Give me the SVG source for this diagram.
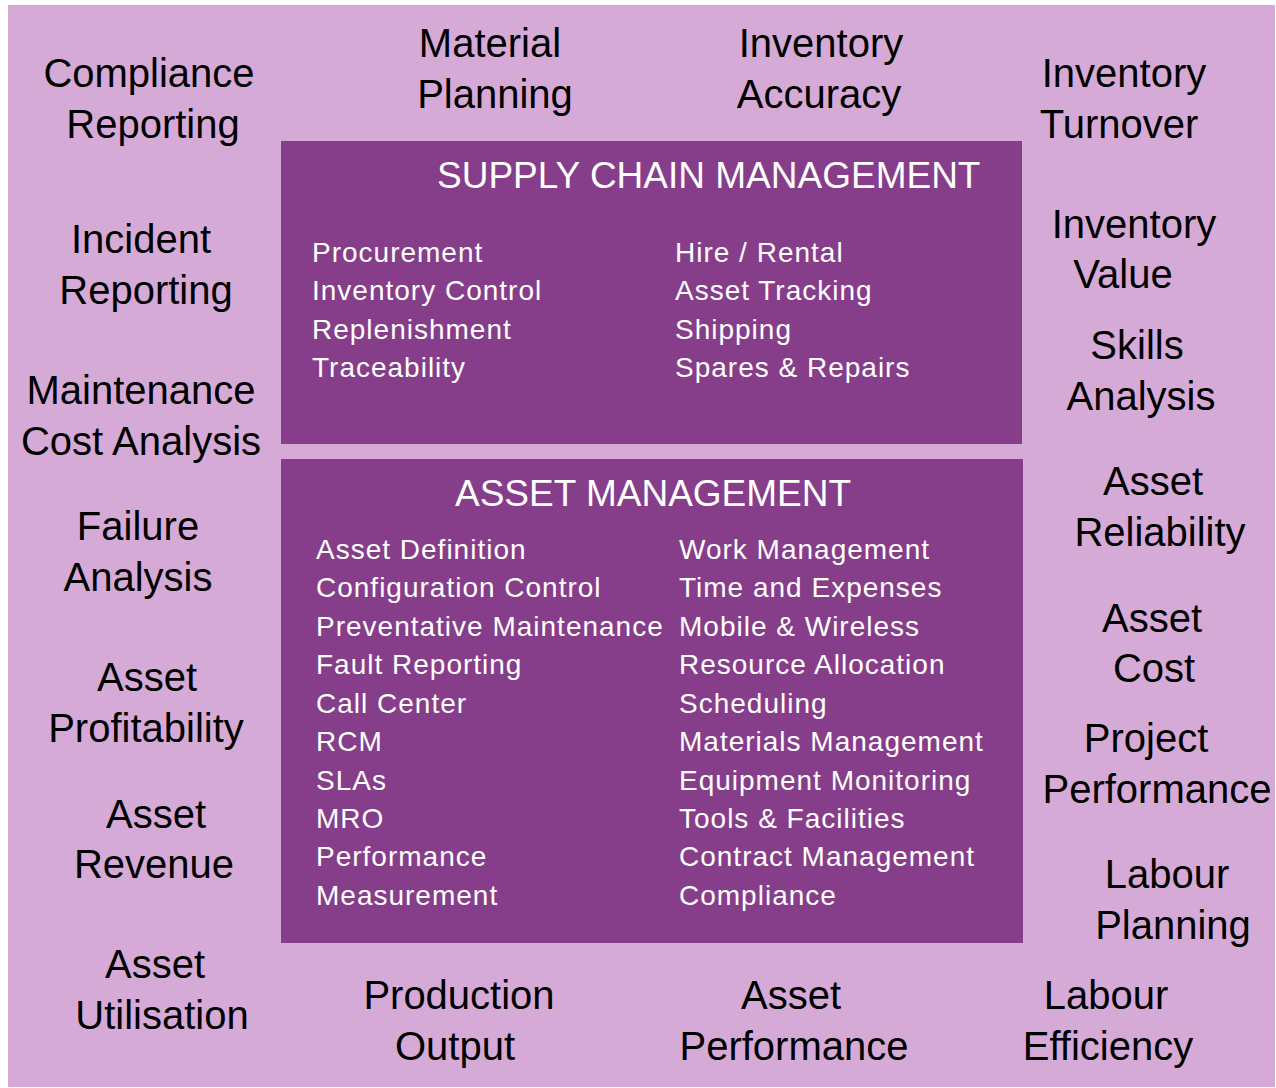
<svg xmlns="http://www.w3.org/2000/svg" width="1276" height="1088" viewBox="0 0 1276 1088">
<style>
.bg{fill:#d6aad7}
.box{fill:#873e8a}
.lbl{font-family:"Liberation Sans",Arial,sans-serif;font-size:40px;fill:#000;text-anchor:middle}
.hdr{font-family:"Liberation Sans",Arial,sans-serif;font-size:37px;fill:#fff}
.item{font-family:"Liberation Sans",Arial,sans-serif;font-size:28px;letter-spacing:1px;fill:#fff}
</style>
<rect x="0" y="0" width="1276" height="1088" fill="#fff"/>
<rect class="bg" x="8" y="5" width="1267" height="1082"/>

<g id="supply-chain-management">
<rect class="box" x="281" y="141" width="741" height="303"/>
<text class="hdr" x="437" y="188">SUPPLY CHAIN MANAGEMENT</text>
<text class="item" x="312" y="262">Procurement</text>
<text class="item" x="312" y="300">Inventory Control</text>
<text class="item" x="312" y="339">Replenishment</text>
<text class="item" x="312" y="377">Traceability</text>
<text class="item" x="675" y="262">Hire / Rental</text>
<text class="item" x="675" y="300">Asset Tracking</text>
<text class="item" x="675" y="339">Shipping</text>
<text class="item" x="675" y="377">Spares &amp; Repairs</text>
</g>

<g id="asset-management">
<rect class="box" x="281" y="459" width="742" height="484"/>
<text class="hdr" x="455" y="506">ASSET MANAGEMENT</text>
<text class="item" x="316" y="559">Asset Definition</text>
<text class="item" x="316" y="597">Configuration Control</text>
<text class="item" x="316" y="636">Preventative Maintenance</text>
<text class="item" x="316" y="674">Fault Reporting</text>
<text class="item" x="316" y="713">Call Center</text>
<text class="item" x="316" y="751">RCM</text>
<text class="item" x="316" y="790">SLAs</text>
<text class="item" x="316" y="828">MRO</text>
<text class="item" x="316" y="866">Performance</text>
<text class="item" x="316" y="905">Measurement</text>
<text class="item" x="679" y="559">Work Management</text>
<text class="item" x="679" y="597">Time and Expenses</text>
<text class="item" x="679" y="636">Mobile &amp; Wireless</text>
<text class="item" x="679" y="674">Resource Allocation</text>
<text class="item" x="679" y="713">Scheduling</text>
<text class="item" x="679" y="751">Materials Management</text>
<text class="item" x="679" y="790">Equipment Monitoring</text>
<text class="item" x="679" y="828">Tools &amp; Facilities</text>
<text class="item" x="679" y="866">Contract Management</text>
<text class="item" x="679" y="905">Compliance</text>
</g>

<g id="compliance-reporting"><text class="lbl" x="149" y="87">Compliance</text><text class="lbl" x="153" y="138">Reporting</text></g>
<g id="material-planning"><text class="lbl" x="490" y="57">Material</text><text class="lbl" x="495" y="108">Planning</text></g>
<g id="inventory-accuracy"><text class="lbl" x="821" y="57">Inventory</text><text class="lbl" x="819" y="108">Accuracy</text></g>
<g id="inventory-turnover"><text class="lbl" x="1124" y="87">Inventory</text><text class="lbl" x="1119" y="138">Turnover</text></g>
<g id="incident-reporting"><text class="lbl" x="141" y="253">Incident</text><text class="lbl" x="146" y="304">Reporting</text></g>
<g id="maintenance-cost-analysis"><text class="lbl" x="141" y="404">Maintenance</text><text class="lbl" x="141" y="455">Cost Analysis</text></g>
<g id="failure-analysis"><text class="lbl" x="138" y="540">Failure</text><text class="lbl" x="138" y="591">Analysis</text></g>
<g id="asset-profitability"><text class="lbl" x="147" y="691">Asset</text><text class="lbl" x="146" y="742">Profitability</text></g>
<g id="asset-revenue"><text class="lbl" x="156" y="828">Asset</text><text class="lbl" x="154" y="878">Revenue</text></g>
<g id="asset-utilisation"><text class="lbl" x="155" y="978">Asset</text><text class="lbl" x="162" y="1029">Utilisation</text></g>
<g id="production-output"><text class="lbl" x="459" y="1009">Production</text><text class="lbl" x="455" y="1060">Output</text></g>
<g id="asset-performance"><text class="lbl" x="791" y="1009">Asset</text><text class="lbl" x="794" y="1060">Performance</text></g>
<g id="labour-efficiency"><text class="lbl" x="1106" y="1009">Labour</text><text class="lbl" x="1108" y="1060">Efficiency</text></g>
<g id="inventory-value"><text class="lbl" x="1134" y="238">Inventory</text><text class="lbl" x="1123" y="288">Value</text></g>
<g id="skills-analysis"><text class="lbl" x="1137" y="359">Skills</text><text class="lbl" x="1141" y="410">Analysis</text></g>
<g id="asset-reliability"><text class="lbl" x="1153" y="495">Asset</text><text class="lbl" x="1160" y="546">Reliability</text></g>
<g id="asset-cost"><text class="lbl" x="1152" y="632">Asset</text><text class="lbl" x="1154" y="682">Cost</text></g>
<g id="project-performance"><text class="lbl" x="1146" y="752">Project</text><text class="lbl" x="1157" y="803">Performance</text></g>
<g id="labour-planning"><text class="lbl" x="1167" y="888">Labour</text><text class="lbl" x="1173" y="939">Planning</text></g>

<g id="connectors"/>
</svg>
